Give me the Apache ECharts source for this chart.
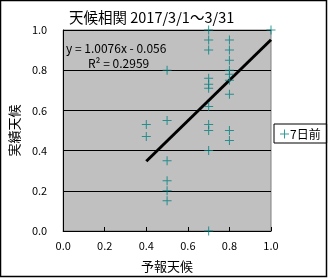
<!DOCTYPE html>
<html><head><meta charset="utf-8">
<script src="https://cdn.jsdelivr.net/npm/echarts@6/dist/echarts.min.js"></script>
<style>html,body{margin:0;padding:0;background:#fff}#c{width:330px;height:278px}</style>
</head><body><div id="c"></div>
<script>
// forecast (x) values
const forecastX = [0.4,0.4, 0.5,0.5,0.5,0.5,0.5,0.5,
  0.7,0.7,0.7,0.7,0.7,0.7,0.7,0.7,0.7,0.7,0.7,
  0.8,0.8,0.8,0.8,0.8,0.8,0.8,0.8,0.8, 1.0];
// actual (y) values
const actualY = [0.53,0.47, 0.8,0.55,0.35,0.25,0.2,0.15,
  1.0,0.95,0.9,0.76,0.73,0.71,0.62,0.53,0.5,0.4,0.0,
  0.95,0.9,0.85,0.8,0.78,0.75,0.68,0.5,0.45, 1.0];
const seriesName = '7日前';
const slope = 1.0076, intercept = -0.056, r2 = 0.2959;
const tickLabels = ['0.0','0.2','0.4','0.6','0.8','1.0'];

const pts = forecastX.map((x,i)=>[x, actualY[i]]);
const xMin = Math.min(...forecastX), xMax = Math.max(...forecastX);
const trend = [[xMin, slope*xMin+intercept],[xMax, slope*xMax+intercept]];
const plus = 'path://M4,0h1v9h-1z M0,4h9v1h-9z';
const FONT = '"Noto Sans CJK JP", sans-serif';

const chart = echarts.init(document.getElementById('c'), null, {renderer:'canvas'});
chart.setOption({
  animation:false,
  backgroundColor:'#fff',
  title:{text:'天候相関 2017/3/1～3/31', left:64, top:5,
    textStyle:{fontFamily:FONT, fontSize:14.5, fontWeight:'normal', color:'#000'}},
  grid:{left:58, top:30, right:59, bottom:46, show:true, backgroundColor:'#c0c0c0',
    borderColor:'#808080', borderWidth:1},
  xAxis:{type:'value', min:0, max:1, interval:0.2,
    name:'予報天候', nameLocation:'middle', nameGap:29,
    nameTextStyle:{fontFamily:FONT, fontSize:13, color:'#000'},
    axisLine:{lineStyle:{color:'#000', width:1}},
    axisTick:{inside:true, length:4, lineStyle:{color:'#000'}},
    axisLabel:{fontFamily:FONT, fontSize:11, color:'#000', margin:9,
      formatter:(v)=>tickLabels[Math.round(v*5)]},
    splitLine:{show:false}},
  yAxis:{type:'value', min:0, max:1, interval:0.2,
    name:'実績天候', nameLocation:'middle', nameGap:35, nameRotate:90,
    nameTextStyle:{fontFamily:FONT, fontSize:13, color:'#000'},
    axisLine:{show:true, lineStyle:{color:'#000', width:1}},
    axisTick:{show:true, inside:true, length:3, lineStyle:{color:'#000'}},
    axisLabel:{fontFamily:FONT, fontSize:11, color:'#000', margin:16,
      formatter:(v)=>tickLabels[Math.round(v*5)]},
    splitLine:{show:true, lineStyle:{color:'#000', width:1}}},
  legend:{left:274, top:124, width:53, height:20, padding:[4,6,3,6],
    borderColor:'#000', borderWidth:1, itemWidth:9, itemHeight:9, itemGap:2,
    data:[{name:seriesName, icon:plus}],
    textStyle:{fontFamily:FONT, fontSize:12, color:'#000', padding:[0,0,0,-4]}},
  series:[
    {type:'line', data:trend, symbol:'none', silent:true, z:2,
      lineStyle:{color:'#000', width:3}},
    {name:seriesName, type:'scatter', data:pts, symbol:plus, symbolSize:9, clip:false, z:3,
      itemStyle:{color:'#008080'}}
  ],
  graphic:[
    {type:'text', left:66, top:42, style:{text:'y = 1.0076x - 0.056', font:'12px '+FONT, fill:'#000'}},
    {type:'text', left:88, top:57, style:{text:'R² = '+r2.toFixed(4), font:'12px '+FONT, fill:'#000'}},
    {type:'rect', shape:{x:0.5,y:0.5,width:326,height:276}, style:{fill:'none', stroke:'#000', lineWidth:1.5}, z:100}
  ]
});
</script></body></html>
